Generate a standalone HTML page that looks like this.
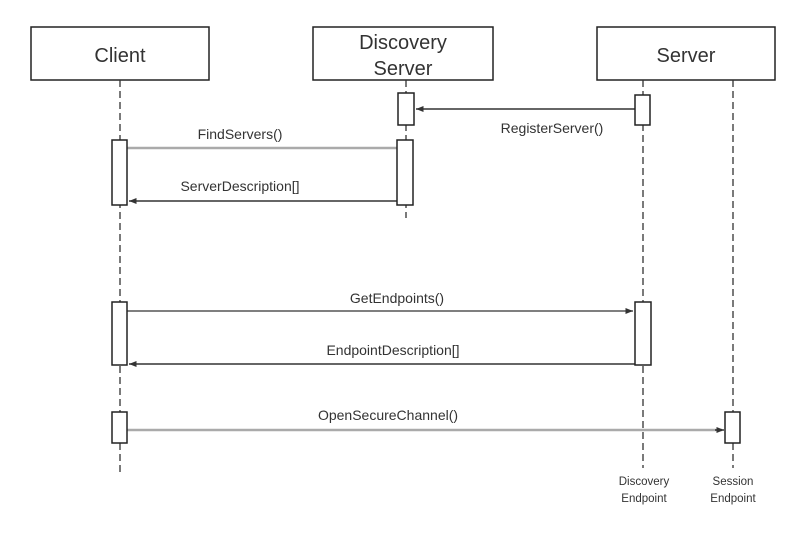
<!DOCTYPE html>
<html><head><meta charset="utf-8"><style>body{margin:0;background:#fff}svg text{font-family:"Liberation Sans",Arial,sans-serif}</style></head><body>
<svg width="811" height="536" xmlns="http://www.w3.org/2000/svg" font-family="'Liberation Sans', Arial, sans-serif" fill="#333">
<defs><marker id="a" markerWidth="6" markerHeight="6" refX="5" refY="3" orient="auto"><path d="M0,1 L5,3 L0,5z" fill="#333"/></marker></defs>
<g fill="#fff" stroke="#222" stroke-width="1.5">
<rect x="31" y="27" width="178" height="53"/>
<rect x="313" y="27" width="180" height="53"/>
<rect x="597" y="27" width="178" height="53"/>
</g>
<g stroke="#333" stroke-width="1.3" stroke-dasharray="7,4">
<line x1="120" y1="80" x2="120" y2="472"/>
<line x1="406" y1="80" x2="406" y2="218"/>
<line x1="643" y1="80" x2="643" y2="468"/>
<line x1="733" y1="80" x2="733" y2="468"/>
</g>
<g stroke="#aaa" stroke-width="2.5">
<line x1="127" y1="148" x2="397" y2="148"/>
<line x1="127" y1="430" x2="722" y2="430"/>
</g>
<g stroke="#333" stroke-width="1.5">
<line x1="635" y1="109" x2="416" y2="109" marker-end="url(#a)"/>
<line x1="397" y1="201" x2="129" y2="201" marker-end="url(#a)"/>
<line x1="127" y1="311" x2="633" y2="311" stroke="#555" marker-end="url(#a)"/>
<line x1="635" y1="364" x2="129" y2="364" marker-end="url(#a)"/>
</g>
<line x1="715" y1="430" x2="724" y2="430" stroke="#333" stroke-width="1.5" marker-end="url(#a)"/>
<g fill="#fff" stroke="#222" stroke-width="1.5">
<rect x="398" y="93" width="16" height="32"/>
<rect x="635" y="95" width="15" height="30"/>
<rect x="397" y="140" width="16" height="65"/>
<rect x="112" y="140" width="15" height="65"/>
<rect x="112" y="302" width="15" height="63"/>
<rect x="635" y="302" width="16" height="63"/>
<rect x="112" y="412" width="15" height="31"/>
<rect x="725" y="412" width="15" height="31"/>
</g>
<g font-size="20" text-anchor="middle">
<text x="120" y="62">Client</text>
<text x="403" y="49">Discovery</text>
<text x="403" y="75">Server</text>
<text x="686" y="62">Server</text>
</g>
<g font-size="14" text-anchor="middle">
<text x="552" y="133">RegisterServer()</text>
<text x="240" y="139">FindServers()</text>
<text x="240" y="191">ServerDescription[]</text>
<text x="397" y="303">GetEndpoints()</text>
<text x="393" y="355">EndpointDescription[]</text>
<text x="388" y="420">OpenSecureChannel()</text>
</g>
<g font-size="11.5" text-anchor="middle">
<text x="644" y="485">Discovery</text>
<text x="644" y="502">Endpoint</text>
<text x="733" y="485">Session</text>
<text x="733" y="502">Endpoint</text>
</g>
</svg>
</body></html>
